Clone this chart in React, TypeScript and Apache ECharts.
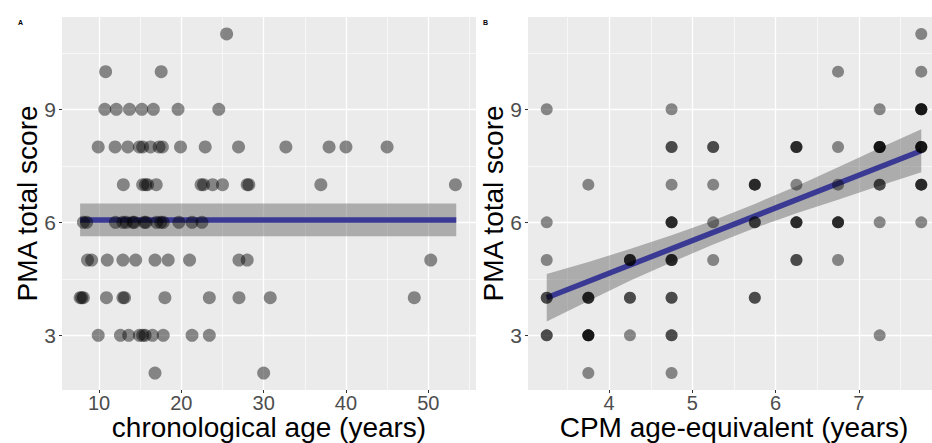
import React, { useEffect, useRef } from 'react';
import * as echarts from 'echarts';

// ---- tick labels ----
const ageTicks = [10, 20, 30, 40, 50];
const cpmTicks = [4, 5, 6, 7];
const pmaTicks = [3, 6, 9];

// ---- Panel A: chronological age (years) of subjects, grouped by PMA total score ----
const ageScore11 = [25.5];
const ageScore10 = [10.8, 17.55];
const ageScore9 = [10.7, 12.1, 13.7, 15.2, 16.6, 19.6, 24.55];
const ageScore8 = [9.9, 11.95, 13.5, 14.9, 15.3, 16.25, 17.3, 17.7, 19.9, 22.9, 26.95, 32.7, 37.95, 40.0, 45.0];
const ageScore7 = [12.95, 15.3, 15.65, 15.9, 16.95, 22.4, 22.7, 23.8, 25.0, 28.0, 28.2, 36.95, 53.3];
const ageScore6 = [8.1, 8.5, 12.0, 12.9, 13.3, 14.1, 14.3, 15.5, 15.7, 17.0, 17.5, 17.8, 19.7, 21.3, 22.5];
const ageScore5 = [8.6, 9.1, 11.0, 12.9, 14.45, 16.8, 18.4, 21.0, 27.0, 28.0, 50.3];
const ageScore4 = [7.7, 7.9, 8.1, 10.9, 12.9, 13.1, 18.0, 23.4, 27.0, 30.8, 48.3];
const ageScore3 = [9.9, 12.6, 13.6, 14.9, 15.3, 15.6, 16.5, 17.8, 21.3, 23.4];
const ageScore2 = [16.8, 30.0];

// fit line + band for panel A
const fitAX = [7.7, 53.4];
const fitAY = [6.06, 6.06];
const bandALo = [5.63, 5.63];
const bandAHi = [6.5, 6.5];

// ---- Panel B: PMA total scores at each CPM age-equivalent ----
const cpmLevels = [3.25, 3.75, 4.25, 4.75, 5.25, 5.75, 6.25, 6.75, 7.25, 7.75];
const pmaAt325 = [9, 6, 5, 4, 4, 3, 3];
const pmaAt375 = [7, 4, 4, 4, 3, 3, 3, 3, 2];
const pmaAt425 = [5, 5, 5, 4, 4, 3];
const pmaAt475 = [9, 8, 8, 7, 6, 6, 6, 5, 5, 5, 4, 4, 3, 3, 2];
const pmaAt525 = [8, 8, 7, 6, 5];
const pmaAt575 = [7, 7, 7, 6, 6, 4, 4];
const pmaAt625 = [8, 8, 8, 7, 6, 6, 6, 5, 5];
const pmaAt675 = [10, 8, 7, 6, 6, 6, 5];
const pmaAt725 = [9, 8, 8, 8, 8, 7, 7, 6, 3];
const pmaAt775 = [11, 10, 9, 9, 9, 9, 8, 8, 8, 8, 7, 7, 7, 6];

// fit line + band for panel B
const fitBX = [3.25, 7.75];
const fitBY = [4.0, 7.9];
const bandBX = [3.25, 3.75, 4.25, 4.75, 5.25, 5.75, 6.25, 6.75, 7.25, 7.75];
const bandBLo = [3.37, 3.91, 4.45, 4.94, 5.41, 5.85, 6.24, 6.6, 6.97, 7.33];
const bandBHi = [4.63, 4.95, 5.29, 5.66, 6.05, 6.49, 6.96, 7.46, 7.97, 8.47];

const FONT = 'Liberation Sans, Arial, sans-serif';

function buildA(): number[][] {
  const groups: [number, number[]][] = [
    [11, ageScore11], [10, ageScore10], [9, ageScore9], [8, ageScore8], [7, ageScore7],
    [6, ageScore6], [5, ageScore5], [4, ageScore4], [3, ageScore3], [2, ageScore2],
  ];
  const out: number[][] = [];
  groups.forEach(([s, arr]) => arr.forEach((a) => out.push([a, s])));
  return out;
}

function buildB(): number[][] {
  const cols = [pmaAt325, pmaAt375, pmaAt425, pmaAt475, pmaAt525, pmaAt575, pmaAt625, pmaAt675, pmaAt725, pmaAt775];
  const out: number[][] = [];
  cols.forEach((arr, i) => arr.forEach((v) => out.push([cpmLevels[i], v])));
  return out;
}

function bandSeries(xIdx: number, xs: number[], lo: number[], hi: number[]) {
  return {
    type: 'custom',
    xAxisIndex: xIdx,
    yAxisIndex: xIdx,
    z: 1,
    silent: true,
    clip: true,
    data: xs.map((x, i) => [x, lo[i], hi[i]]),
    encode: { x: 0, y: [1, 2] },
    renderItem: (params: any, api: any) => {
      if (params.dataIndex !== 0) return null;
      const upper = xs.map((x, i) => api.coord([x, hi[i]]));
      const lower = xs.map((x, i) => api.coord([x, lo[i]])).reverse();
      return {
        type: 'polygon',
        shape: { points: upper.concat(lower) },
        style: { fill: 'rgba(95,95,95,0.45)' },
      };
    },
  };
}

function xAxisCfg(grid: number, min: number, max: number, step: number, ticks: number[], name: string) {
  return {
    gridIndex: grid,
    type: 'value',
    min,
    max,
    minInterval: step,
    maxInterval: step,
    axisLine: { show: false },
    axisTick: { show: true, length: 3, customValues: ticks, lineStyle: { color: '#333333', width: 1 } },
    axisLabel: { customValues: ticks, color: '#4d4d4d', fontSize: 20, lineHeight: 20, fontFamily: FONT, margin: 3 },
    splitLine: { show: true, lineStyle: { color: '#ffffff', width: 1.3 } },
    minorTick: { show: false, splitNumber: 2 },
    minorSplitLine: { show: true, lineStyle: { color: '#ffffff', width: 0.6 } },
    name,
    nameLocation: 'middle',
    nameGap: 24,
    nameMoveOverlap: false,
    nameTextStyle: { fontSize: 28, lineHeight: 26, color: '#000000', fontFamily: FONT },
  };
}

function yAxisCfg(grid: number) {
  return {
    gridIndex: grid,
    type: 'value',
    min: 1.55,
    max: 11.45,
    minInterval: 3,
    maxInterval: 3,
    axisLine: { show: false },
    axisTick: { show: true, length: 3, customValues: pmaTicks, lineStyle: { color: '#333333', width: 1 } },
    axisLabel: { customValues: pmaTicks, color: '#4d4d4d', fontSize: 21, fontFamily: FONT, margin: 6 },
    splitLine: { show: true, lineStyle: { color: '#ffffff', width: 1.3 } },
    minorTick: { show: false, splitNumber: 2 },
    minorSplitLine: { show: true, lineStyle: { color: '#ffffff', width: 0.6 } },
    name: 'PMA total score',
    nameLocation: 'middle',
    nameGap: 21,
    nameMoveOverlap: false,
    nameTextStyle: { fontSize: 28, color: '#000000', fontFamily: FONT },
  };
}

export default function App() {
  const ref = useRef<HTMLDivElement>(null);

  useEffect(() => {
    if (!ref.current) return;
    const chart = echarts.init(ref.current, undefined, { renderer: 'svg' });
    const option: any = {
      animation: false,
      backgroundColor: '#ffffff',
      textStyle: { fontFamily: FONT },
      grid: [
        { left: 62, top: 17, width: 414, height: 373, show: true, backgroundColor: '#EBEBEB', borderWidth: 0, containLabel: false, outerBoundsMode: 'none' },
        { left: 528, top: 17, width: 412, height: 373, show: true, backgroundColor: '#EBEBEB', borderWidth: 0, containLabel: false, outerBoundsMode: 'none' },
      ],
      xAxis: [
        xAxisCfg(0, 5.5, 55.8, 10, ageTicks, 'chronological age (years)'),
        xAxisCfg(1, 3.025, 7.975, 1, cpmTicks, 'CPM age-equivalent (years)'),
      ],
      yAxis: [yAxisCfg(0), yAxisCfg(1)],
      graphic: [
        { type: 'text', left: 18, top: 19, style: { text: 'A', fontSize: 7, fontWeight: 'bold', fill: '#000', fontFamily: FONT } },
        { type: 'text', left: 483, top: 19, style: { text: 'B', fontSize: 7, fontWeight: 'bold', fill: '#000', fontFamily: FONT } },
      ],
      series: [
        bandSeries(0, fitAX, bandALo, bandAHi),
        {
          type: 'line', xAxisIndex: 0, yAxisIndex: 0, z: 2, silent: true, symbol: 'none',
          data: fitAX.map((x, i) => [x, fitAY[i]]),
          lineStyle: { color: '#3a3a94', width: 5.5 },
        },
        {
          type: 'scatter', xAxisIndex: 0, yAxisIndex: 0, z: 3, silent: true,
          symbolSize: 13,
          data: buildA(),
          itemStyle: { color: 'rgba(0,0,0,0.55)' },
        },
        bandSeries(1, bandBX, bandBLo, bandBHi),
        {
          type: 'line', xAxisIndex: 1, yAxisIndex: 1, z: 2, silent: true, symbol: 'none',
          data: fitBX.map((x, i) => [x, fitBY[i]]),
          lineStyle: { color: '#3a3a94', width: 5.5 },
        },
        {
          type: 'scatter', xAxisIndex: 1, yAxisIndex: 1, z: 3, silent: true,
          symbolSize: 12,
          data: buildB(),
          itemStyle: { color: 'rgba(0,0,0,0.55)' },
        },
      ],
    };
    chart.setOption(option);
    return () => chart.dispose();
  }, []);

  return (
    <div
      ref={ref}
      style={{ position: 'absolute', left: 0, top: 0, width: 932, height: 443 }}
    />
  );
}
